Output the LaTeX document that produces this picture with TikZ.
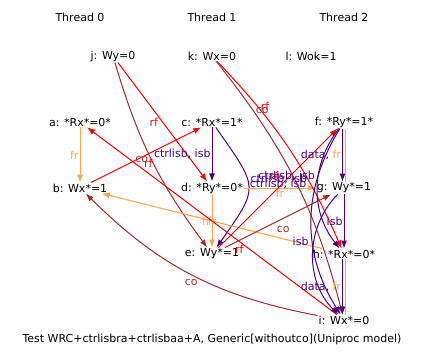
\documentclass[tikz,border=0pt]{standalone}
\usepackage{fontspec}
\setmainfont{DejaVu Sans}
\usetikzlibrary{arrows.meta,positioning}
\definecolor{rfc}{HTML}{FF0000}
\definecolor{frc}{HTML}{FFA54F}
\definecolor{coc}{HTML}{A52A2A}
\definecolor{isbc}{HTML}{4B0082}

\begin{document}
\begin{tikzpicture}[x=1pt,y=1pt,node distance=66pt and 132pt,on grid,
every node/.style={font=\fontsize{11}{13}\selectfont,inner sep=1pt},
rf/.style={rfc,line width=1pt,-{Latex[length=8pt,width=6pt]}},
fr/.style={frc,line width=1pt,-{Latex[length=8pt,width=6pt]}},
co/.style={coc,line width=1pt,-{Latex[length=8pt,width=6pt]}},
isb/.style={isbc,line width=1pt,-{Latex[length=8pt,width=6pt]}}]
\useasboundingbox (0,0) rectangle (426,-361);
\node (t0) at (80,-17) {Thread 0};
\node[right=of t0] (t1) {Thread 1};
\node[right=of t1] (t2) {Thread 2};
\node (j) at (113,-56) {j: Wy=0};
\node (k) at (212,-56) {k: Wx=0};
\node (l) at (311,-56) {l: Wok=1};
\node (a) at (80,-122) {a: *Rx*=0*};
\node[below=of a] (b) {b: Wx*=1};
\node[right=of a] (c) {c: *Rx*=1*};
\node[below=of c] (d) {d: *Ry*=0*};
\node[below=of d] (e) {e: Wy*=1};
\node[right=of c] (f) {f: *Ry*=1*};
\node[below=of f] (g) {g: Wy*=1};
\node[below=of g] (h) {h: *Rx*=0*};
\node[below=of h] (i) {i: Wx*=0};
\node (cap) at (212,-339) {Test WRC+ctrlisbra+ctrlisbaa+A, Generic[withoutco](Uniproc model)};
\draw[fr] (a) -- node[left] {fr} (b);
\draw[rf] (b) -- node[pos=.52,below=4pt] {rf} (c);
\draw[rf] (j) -- node[left=3pt] {rf} (d);
\draw[co] (j) to[bend right=10] node[pos=.5,left=2pt] {co} (e);
\draw[isb] (c) -- node[left] {ctrlisb\textcolor{black}{,} isb} (d);
\draw[isb] (c) to[out=-55,in=55,looseness=1.6] node[pos=.4,right=2pt] {ctrlisb\textcolor{black}{,} isb} (e);
\draw[fr] (d) -- node[left] {fr} (e);
\draw[fr] (d) -- node[below] {fr} (g);
\draw[fr] (h) -- node {fr} (b);
\draw[rf] (i) -- node[pos=.39,below=2pt] {rf} (a);
\draw[rf] (e) -- node[pos=.6,left=10pt] {rf} (f);
\draw[co] (e) -- node[pos=.55,below=6pt] {co} (g);
\draw[rf] (k) to[bend left=10] node[pos=.25,right=2pt] {rf} (h);
\draw[co] (k) to[bend left=12] node[pos=.2,right=1pt] {co} (i);
\draw[co] (i) to[bend left=17] node[below=3pt] {co} (b);
\draw[isb,transform canvas={xshift=-1.5pt}] (f) -- node[left] {data\textcolor{black}{,} \textcolor{frc}{fr}} (g);
\draw[frc,line width=1pt,transform canvas={xshift=1.5pt}] (f) -- (g);
\draw[isb] (g) -- node[left] {isb} (h);
\draw[isb,transform canvas={xshift=-1.5pt}] (h) -- node[left] {data\textcolor{black}{,} \textcolor{frc}{fr}} (i);
\draw[frc,line width=1pt,transform canvas={xshift=1.5pt}] (h) -- (i);
\draw[isb] (f) to[bend right=38] node[pos=.4,left=2pt] {ctrlisb\textcolor{black}{,} isb} (h);
\draw[isb] (f) to[bend right=32] node[pos=.3,left=8pt] {ctrlisb\textcolor{black}{,} isb} (i);
\draw[isb] (g) to[bend right=45] node[pos=.4,left=4pt] {isb} (i);
\end{tikzpicture}
\end{document}
